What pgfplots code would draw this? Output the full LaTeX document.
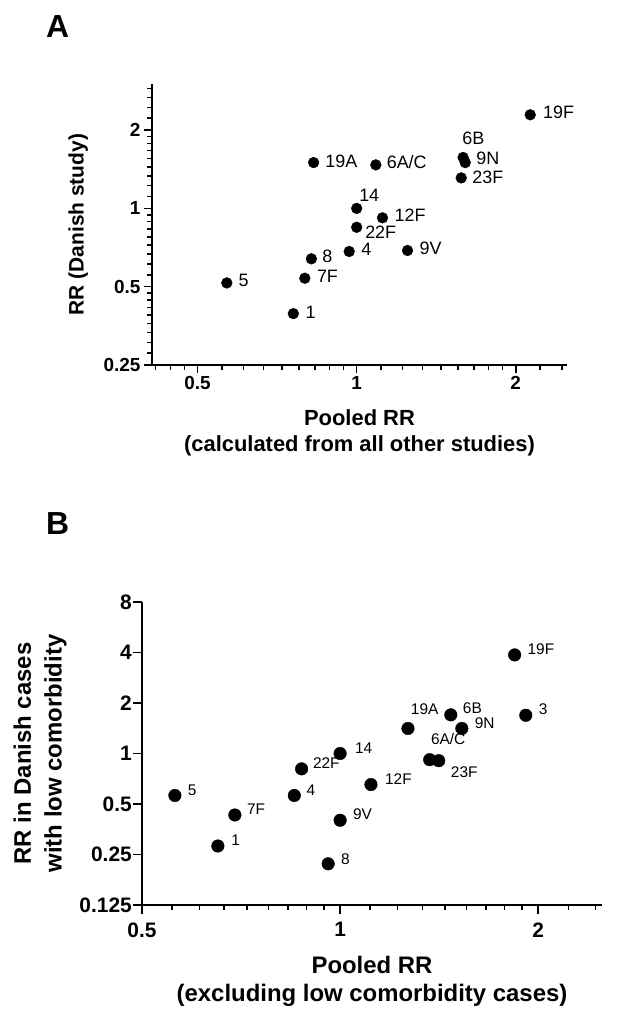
\documentclass[border=0pt]{standalone}
\usepackage{fontspec}
\setmainfont{Liberation Sans}
\usepackage{pgfplots}
\pgfplotsset{compat=1.18}
\usepackage{pgfplotstable}

\pgfplotstableread{
x y lab dx dy
2.13 2.29 19F 12.8 2.3
1.59 1.57 6B -1 19
1.605 1.50 9N 11 3.8
1.577 1.31 23F 11 1.0
0.829 1.50 19A 11.6 1.7
1.087 1.47 6A/C 10.8 2.3
1.0 1.0 14 2.4 13.3
1.119 0.92 12F 12 2.7
1.0 0.846 22F 8.4 -4.7
0.968 0.683 4 12 2
1.248 0.689 9V 12 1.7
0.821 0.640 8 10.8 2.3
0.798 0.539 7F 12 2
0.568 0.517 5 11.6 2.3
0.759 0.394 1 12 1.7
}\dataA

\pgfplotstableread{
x y lab dx dy
1.842 3.87 19F 12.8 5.5
1.915 1.69 3 12.8 5.8
1.473 1.70 6B 12 6.5
1.531 1.41 9N 12.8 4.8
1.268 1.41 19A 2.8 19
1.368 0.919 6A/C 1.2 20.5
1.412 0.906 23F 12 -11.6
1.0 1.0 14 14.8 5.8
0.874 0.81 22F 11.2 5.5
1.114 0.653 12F 14 5.1
0.561 0.562 5 12.8 5.1
0.852 0.562 4 12 5.1
0.692 0.430 7F 12 5.8
1.0 0.400 9V 12.8 6.1
0.652 0.281 1 13.2 5.5
0.959 0.220 8 12.8 5.1
}\dataB

\begin{document}
\begin{tikzpicture}
\useasboundingbox (0,0) rectangle (624bp,1018bp);

\node[anchor=base west, inner sep=0pt, font=\fontsize{32}{36}\selectfont\bfseries] at (46bp,980bp) {A};
\node[anchor=base west, inner sep=0pt, font=\fontsize{32}{36}\selectfont\bfseries] at (46bp,483bp) {B};

% Panel A
\begin{axis}[
  xmode=log, ymode=log,
  scale only axis,
  axis lines=left,
  axis line style={-, line width=1.8bp, black},
  tick align=outside,
  major tick length=8bp,
  minor tick length=5bp,
  tick style={line width=1.5bp, black},
  clip=false,
  at={(152bp,653bp)}, anchor=south west,
  width=415bp, height=280.7bp,
  xmin=0.41, xmax=2.5, ymin=0.25, ymax=3,
  xtick={0.5,1,2}, xticklabels={\textbf{0.5},\textbf{1},\textbf{2}},
  ytick={0.25,0.5,1,2}, yticklabels={\textbf{0.25},\textbf{0.5},\textbf{1},\textbf{2}},
  minor xtick={0.4167,0.4444,0.4722,0.5556,0.6111,0.6667,0.7222,0.7778,0.8333,0.8889,0.9444,1.1111,1.2222,1.3333,1.4444,1.5556,1.6667,1.7778,1.8889,2.2222,2.4444},
  minor ytick={0.2778,0.3056,0.3333,0.3611,0.3889,0.4167,0.4444,0.4722,0.5556,0.6111,0.6667,0.7222,0.7778,0.8333,0.8889,0.9444,1.1111,1.2222,1.3333,1.4444,1.5556,1.6667,1.7778,1.8889,2.2222,2.4444,2.6667,2.8889},
  ticklabel style={font=\fontsize{19}{22}\selectfont\bfseries},
  xlabel={Pooled RR\\(calculated from all other studies)},
  xlabel style={at={(axis description cs:0.5,-0.157)}, anchor=north, align=center, inner sep=0pt, font=\fontsize{22}{26}\selectfont\bfseries},
  ylabel={RR (Danish study)},
  ylabel style={at={(axis description cs:-0.178,0.5)}, anchor=center, inner sep=0pt, font=\fontsize{21}{25}\selectfont\bfseries},
]
\addplot[only marks, mark=*, mark size=5.4bp, black,
  nodes near coords, point meta=explicit symbolic,
  visualization depends on={\thisrow{dx} \as \dx},
  visualization depends on={\thisrow{dy} \as \dy},
  every node near coord/.append style={anchor=west, inner sep=0pt, xshift=\dx bp, yshift=\dy bp, font=\fontsize{18}{21}\selectfont, text=black}]
  table[x=x, y=y, meta=lab]{\dataA};
\end{axis}

% Panel B
\begin{axis}[
  xmode=log, ymode=log,
  scale only axis,
  axis lines=left,
  axis line style={-, line width=1.8bp, black},
  tick align=outside,
  major tick length=9bp,
  minor tick length=5bp,
  tick style={line width=1.5bp, black},
  clip=false,
  at={(142bp,113bp)}, anchor=south west,
  width=460bp, height=303bp,
  xmin=0.5, xmax=2.5, ymin=0.125, ymax=8,
  xtick={0.5,1,2}, xticklabels={\textbf{0.5},\textbf{1},\textbf{2}},
  ytick={0.125,0.25,0.5,1,2,4,8}, yticklabels={\textbf{0.125},\textbf{0.25},\textbf{0.5},\textbf{1},\textbf{2},\textbf{4},\textbf{8}},
  minor xtick={0.5556,0.6111,0.6667,0.7222,0.7778,0.8333,0.8889,0.9444,1.1111,1.2222,1.3333,1.4444,1.5556,1.6667,1.7778,1.8889,2.2222,2.4444},
  ticklabel style={font=\fontsize{21}{24}\selectfont\bfseries},
  xticklabel style={yshift=-5bp},
  yticklabel style={inner xsep=1bp},
  xlabel={Pooled RR\\(excluding low comorbidity cases)},
  xlabel style={at={(axis description cs:0.5,-0.167)}, anchor=north, align=center, inner sep=0pt, font=\fontsize{24}{28}\selectfont\bfseries},
  ylabel={RR in Danish cases\\with low comorbidity},
  ylabel style={at={(axis description cs:-0.2217,0.5)}, anchor=center, align=center, inner sep=0pt, font=\fontsize{24}{31}\selectfont\bfseries},
]
\addplot[only marks, mark=*, mark size=6.3bp, black,
  nodes near coords, point meta=explicit symbolic,
  visualization depends on={\thisrow{dx} \as \dx},
  visualization depends on={\thisrow{dy} \as \dy},
  every node near coord/.append style={anchor=west, inner sep=0pt, xshift=\dx bp, yshift=\dy bp, font=\fontsize{15.5}{18}\selectfont, text=black}]
  table[x=x, y=y, meta=lab]{\dataB};
\end{axis}
\end{tikzpicture}
\end{document}
